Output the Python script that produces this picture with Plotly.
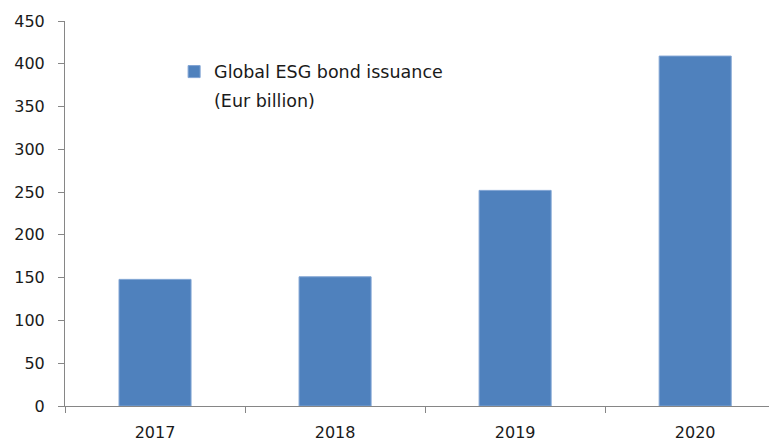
import plotly.graph_objects as go

years = ["2017", "2018", "2019", "2020"]
issuance = [148, 151, 252, 409]
series_name_line1 = "Global ESG bond issuance"
series_name_line2 = "(Eur billion)"

axis_color = "#868686"
bar_color = "#4F81BD"
font_family = "DejaVu Sans"
text_color = "#1a1a1a"

fig = go.Figure()
fig.add_trace(go.Bar(
    x=years, y=issuance, name=series_name_line1,
    marker=dict(color=bar_color, line=dict(color="#7FA3D3", width=1)),
    showlegend=True,
))

fig.add_annotation(
    text=series_name_line2, xref="paper", yref="paper",
    x=0.209, y=0.792, xanchor="left", yanchor="middle",
    showarrow=False, font=dict(size=17.5, color=text_color),
)

fig.update_layout(
    width=769, height=443,
    margin=dict(l=65, r=0, t=21, b=37),
    paper_bgcolor="white", plot_bgcolor="white",
    bargap=0.6,
    font=dict(family=font_family, size=16, color=text_color),
    showlegend=True,
    legend=dict(x=0.155, y=0.915, xanchor="left", yanchor="top",
                bgcolor="rgba(0,0,0,0)", font=dict(size=17.5)),
    xaxis=dict(
        type="category", range=[-0.5, 3.41],
        showline=True, linecolor=axis_color, linewidth=1,
        ticks="outside", tickson="boundaries", ticklen=6, tickcolor=axis_color,
        showgrid=False, zeroline=False, fixedrange=True,
        tickfont=dict(size=16), ticklabelstandoff=12,
    ),
    yaxis=dict(
        range=[0, 450], dtick=50,
        showline=True, linecolor=axis_color, linewidth=1,
        ticks="outside", ticklen=6, tickcolor=axis_color,
        showgrid=False, zeroline=False,
        tickfont=dict(size=16), ticklabelstandoff=10,
    ),
)

fig.write_html("out.html")
